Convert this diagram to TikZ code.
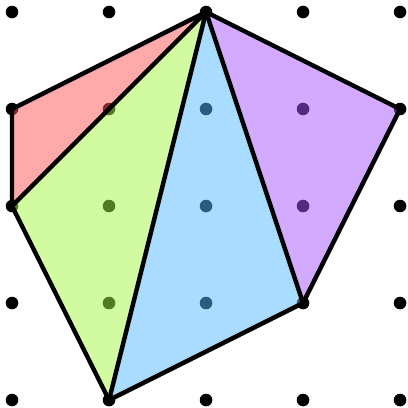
\documentclass[tikz,border=0pt]{standalone}

\definecolor{rouge}{RGB}{255,85,85}
\definecolor{vert}{RGB}{165,245,65}
\definecolor{bleu}{RGB}{85,185,255}
\definecolor{violet}{RGB}{165,85,255}

\tikzset{
  region/.style={fill opacity=0.5},
  bord/.style={line width=1.3pt,line join=round}
}

\begin{document}
\begin{tikzpicture}[scale=1]

\useasboundingbox
(-0.124,-0.082)
rectangle
(4.072,4.124);

% Points
\foreach \i in {0,...,4}
\foreach \j in {0,...,4}
\fill (\i,\j) circle (0.065);

% Sommets
\coordinate (H) at (2,4);
\coordinate (D) at (4,3);
\coordinate (E) at (3,1);
\coordinate (B) at (1,0);
\coordinate (G) at (0,2);
\coordinate (F) at (0,3);

% Regions
\fill[rouge,region]
(F) -- (H) -- (G) -- cycle;

\fill[vert,region]
(G) -- (H) -- (B) -- cycle;

\fill[bleu,region]
(H) -- (E) -- (B) -- cycle;

\fill[violet,region]
(H) -- (D) -- (E) -- cycle;

% Bords
\draw[bord]
(H) -- (D) -- (E) -- (B) -- (G) -- (F) -- cycle;

\draw[bord]
(G) -- (H) -- (B);

\draw[bord]
(H) -- (E);

\end{tikzpicture}
\end{document}
